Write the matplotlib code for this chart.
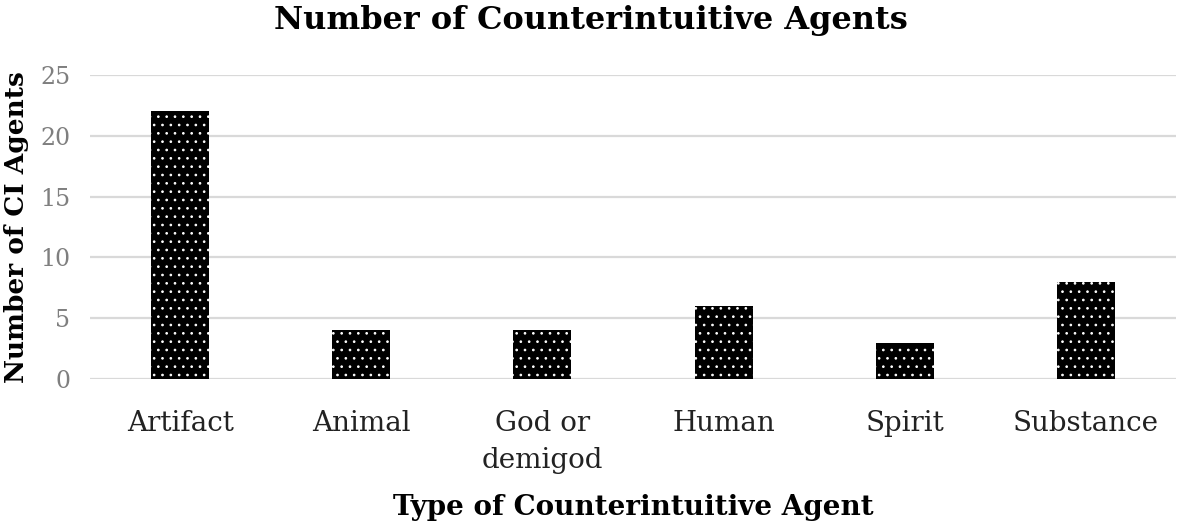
import matplotlib.pyplot as plt

categories = ["Artifact", "Animal", "God or\ndemigod", "Human", "Spirit", "Substance"]
counts = [22, 4, 4, 6, 3, 8]
yticks = [0, 5, 10, 15, 20, 25]

plt.rcParams["font.family"] = "DejaVu Serif"
plt.rcParams["hatch.linewidth"] = 0.7

fig = plt.figure(figsize=(11.81, 5.31), dpi=100)
ax = fig.add_axes([0.076, 0.286, 0.92, 0.573])

x = range(len(categories))
ax.bar(x, counts, width=0.32, color="black", edgecolor="white", linewidth=0,
       hatch="..", zorder=3)

ax.set_ylim(0, 25)
ax.set_xlim(-0.5, len(categories) - 0.5)
ax.set_yticks(yticks)
ax.set_xticks(list(x))
ax.set_xticklabels(categories, fontsize=20, color="#222222", linespacing=1.5)
ax.tick_params(axis="y", labelsize=17, labelcolor="#7f7f7f", length=0, pad=14)
ax.tick_params(axis="x", length=0, pad=22)
ax.grid(axis="y", color="#d9d9d9", linewidth=1.6, zorder=0)
for s in ax.spines.values():
    s.set_visible(False)

ax.set_ylabel("Number of CI Agents", fontsize=19, fontweight="bold", labelpad=8)
ax.set_xlabel("Type of Counterintuitive Agent", fontsize=20, fontweight="bold", labelpad=14)
fig.suptitle("Number of Counterintuitive Agents", fontsize=23, fontweight="bold", y=0.99)

fig.savefig("out.png", dpi=100)
